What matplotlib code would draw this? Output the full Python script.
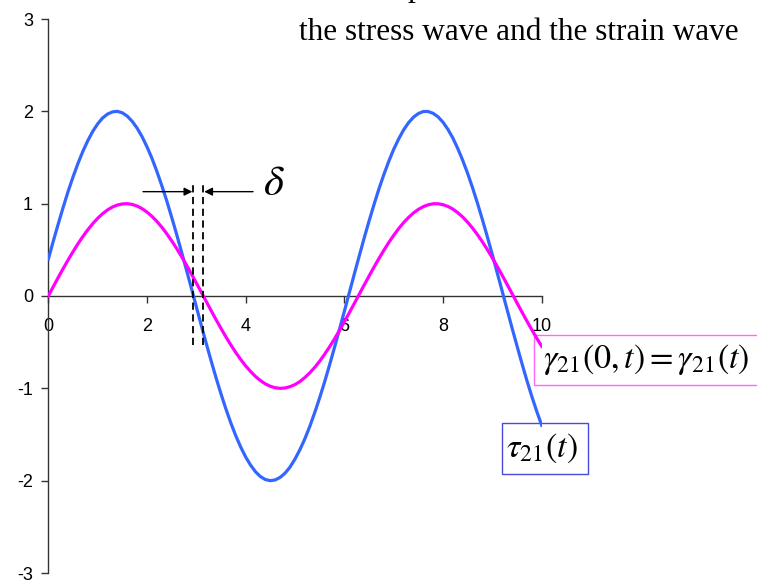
import numpy as np
import matplotlib
matplotlib.use("Agg")
import matplotlib.pyplot as plt
from matplotlib.patches import Rectangle

# time axis (s), sampled every 0.1
t = np.round(np.arange(0, 10.001, 0.1), 1)

# strain wave gamma_21(t)
strain = [0.000, 0.100, 0.199, 0.296, 0.389, 0.479, 0.565, 0.644, 0.717, 0.783,
          0.841, 0.891, 0.932, 0.964, 0.985, 0.997, 1.000, 0.992, 0.974, 0.946,
          0.909, 0.863, 0.808, 0.746, 0.675, 0.598, 0.516, 0.427, 0.335, 0.239,
          0.141, 0.042, -0.058, -0.158, -0.256, -0.351, -0.443, -0.530, -0.612, -0.688,
          -0.757, -0.818, -0.872, -0.916, -0.952, -0.978, -0.994, -1.000, -0.996, -0.982,
          -0.959, -0.926, -0.883, -0.832, -0.773, -0.706, -0.631, -0.551, -0.465, -0.374,
          -0.279, -0.182, -0.083, 0.017, 0.117, 0.215, 0.312, 0.405, 0.494, 0.579,
          0.657, 0.729, 0.794, 0.850, 0.899, 0.938, 0.968, 0.988, 0.999, 0.999,
          0.989, 0.970, 0.941, 0.902, 0.855, 0.798, 0.734, 0.663, 0.585, 0.501,
          0.412, 0.319, 0.223, 0.124, 0.025, -0.075, -0.174, -0.271, -0.366, -0.458,
          -0.544]

# stress wave tau_21(t), leads the strain by delta
stress = [0.398, 0.592, 0.778, 0.958, 1.130, 1.288, 1.434, 1.566, 1.682, 1.782,
          1.864, 1.928, 1.970, 1.994, 2.000, 1.984, 1.948, 1.892, 1.818, 1.726,
          1.616, 1.492, 1.350, 1.196, 1.032, 0.854, 0.670, 0.478, 0.282, 0.084,
          -0.116, -0.316, -0.512, -0.702, -0.886, -1.060, -1.224, -1.376, -1.514, -1.636,
          -1.744, -1.832, -1.904, -1.956, -1.988, -2.000, -1.992, -1.964, -1.918, -1.852,
          -1.766, -1.664, -1.546, -1.412, -1.262, -1.102, -0.930, -0.748, -0.558, -0.364,
          -0.166, 0.034, 0.234, 0.430, 0.624, 0.810, 0.988, 1.158, 1.314, 1.458,
          1.588, 1.700, 1.798, 1.876, 1.936, 1.976, 1.998, 1.998, 1.978, 1.940,
          1.882, 1.804, 1.710, 1.596, 1.468, 1.326, 1.170, 1.002, 0.824, 0.638,
          0.446, 0.248, 0.050, -0.150, -0.348, -0.542, -0.732, -0.916, -1.088, -1.250,
          -1.400]

# zero crossings used to mark the phase lag
zero_stress = 2.94
zero_strain = 3.14

x_ticks = [0, 2, 4, 6, 8, 10]
y_ticks = [-3, -2, -1, 0, 1, 2, 3]

plt.rcParams["font.family"] = ["Liberation Sans", "DejaVu Sans"]
plt.rcParams["mathtext.fontset"] = "stix"

fig = plt.figure(figsize=(7.57, 5.83), dpi=100)
ax = fig.add_axes([48.3 / 757, 10 / 583, 493.4 / 757, 554 / 583])

ax.plot(t, stress, color="#3366ff", lw=2.3, zorder=3)
ax.plot(t, strain, color="#ff00ff", lw=2.3, zorder=3)

ax.spines["top"].set_visible(False)
ax.spines["right"].set_visible(False)
ax.spines["bottom"].set_position(("data", 0))
for s in ("left", "bottom"):
    ax.spines[s].set_color("#333333")
    ax.spines[s].set_linewidth(1)

ax.set_xlim(0, 10)
ax.set_ylim(-3, 3)
ax.set_xticks(x_ticks)
ax.set_yticks(y_ticks)
ax.set_xticklabels([str(v) for v in x_ticks])
ax.set_yticklabels([str(v) for v in y_ticks])
ax.tick_params(axis="both", direction="out", length=5, width=1,
               color="#333333", labelsize=13)
ax.tick_params(axis="x", pad=11)
ax.tick_params(axis="y", pad=6)

# phase lag markers
for xv in (zero_stress, zero_strain):
    ax.plot([xv, xv], [-0.53, 1.20], color="black", lw=1.3,
            ls=(0, (4, 2.5)), zorder=4)

arrow = dict(arrowstyle="-|>", color="black", lw=1, mutation_scale=12,
             shrinkA=0, shrinkB=0)
ax.annotate("", xy=(zero_stress - 0.02, 1.13), xytext=(1.92, 1.13),
            arrowprops=arrow)
ax.annotate("", xy=(zero_strain + 0.02, 1.13), xytext=(4.15, 1.13),
            arrowprops=arrow)
ax.text(4.57, 1.21, r"$\delta$", fontsize=31, ha="center", va="center")

# curve labels
ax.add_patch(Rectangle((9.85, -0.964), 5.0, 0.544, fill=True, fc="white",
                       ec="#ff66ff", lw=1, clip_on=False, zorder=2))
ax.text(12.12, -0.69, r"$\gamma_{21}(0,t) = \gamma_{21}(t)$", fontsize=24.5,
        ha="center", va="center", zorder=2)

ax.add_patch(Rectangle((9.20, -1.93), 1.73, 0.554, fill=True, fc="white",
                       ec="#4a4ae0", lw=1, clip_on=False, zorder=2))
ax.text(10.0, -1.65, r"$\tau_{21}(t)$", fontsize=24.5,
        ha="center", va="center", zorder=2)

# caption at top
fig.text(362 / 757, 1 + 4 / 583, "the phase difference between",
         fontsize=22.5, family="Liberation Serif", ha="left", va="baseline")
fig.text(299 / 757, 1 - 40 / 583, "the stress wave and the strain wave",
         fontsize=22.5, family="Liberation Serif", ha="left", va="baseline")

fig.savefig("out.png", dpi=100)
